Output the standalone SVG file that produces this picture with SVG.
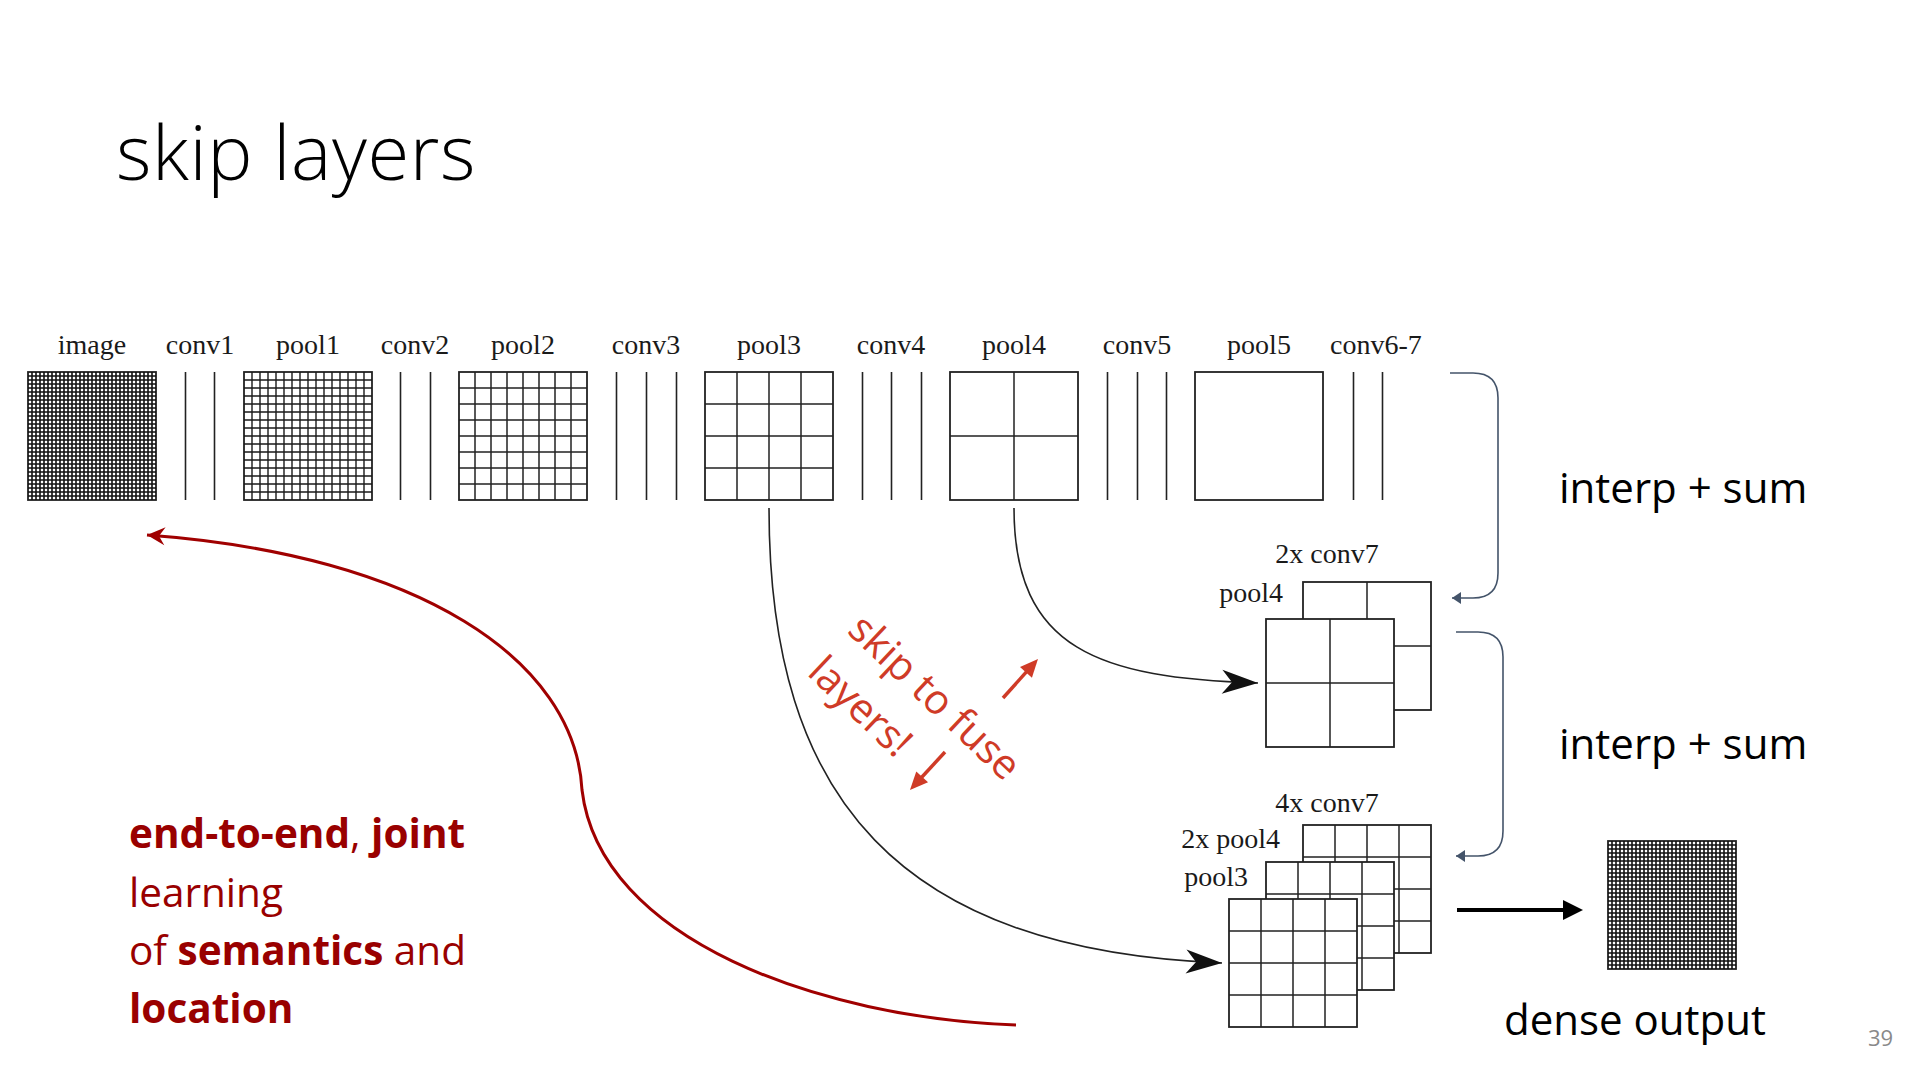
<svg xmlns="http://www.w3.org/2000/svg" xmlns:xlink="http://www.w3.org/1999/xlink" width="1920" height="1080" viewBox="0 0 1920 1080">
<style>
.lbl{font-family:"Liberation Serif","DejaVu Serif",serif;font-size:28px;fill:#1a1a1a;text-anchor:middle}
.lblr{font-family:"Liberation Serif","DejaVu Serif",serif;font-size:28px;fill:#1a1a1a;text-anchor:end}
.sans{font-family:"Open Sans","Noto Sans","Liberation Sans",sans-serif}
.title{font-size:76px;font-weight:300;fill:#000;letter-spacing:0.6px}
.big{font-size:42px;fill:#000}
.red{font-size:40.5px;fill:#990000}
.b{font-weight:700}
.skip{font-size:41px;fill:#CF3B27}
.pg{font-size:22px;fill:#898989}
.box{fill:#fff;stroke:#222;stroke-width:1.8}
.grid{fill:none;stroke:#222;stroke-width:1.5}
.fine{fill:none;stroke:#1a1a1a;stroke-width:1.4}
.vfine{fill:none;stroke:#111;stroke-width:1.6}
.conv{stroke:#222;stroke-width:1.6}
.curve{fill:none;stroke:#222;stroke-width:1.6}
.brace{fill:none;stroke:#44546A;stroke-width:1.6}
.rcurve{fill:none;stroke:#A00000;stroke-width:3}
.rarrow{fill:none;stroke:#CF3B27;stroke-width:3.5}
.thick{fill:none;stroke:#000;stroke-width:4}
</style>
<defs>
<marker id="stealth" markerUnits="userSpaceOnUse" viewBox="-38 -14 40 28" markerWidth="40" markerHeight="28" refX="0" refY="0" orient="auto"><path d="M0 0L-36-12L-26 0L-36 12Z" fill="#111"/></marker>
<marker id="rstealth" markerUnits="userSpaceOnUse" viewBox="-20 -10 22 20" markerWidth="22" markerHeight="20" refX="0" refY="0" orient="auto-start-reverse"><path d="M0 0L-18-9L-12 0L-18 9Z" fill="#A00000"/></marker>
<marker id="bhead" markerUnits="userSpaceOnUse" viewBox="-10 -7 12 14" markerWidth="12" markerHeight="14" refX="0" refY="0" orient="auto"><path d="M0 0L-9-6L-9 6Z" fill="#44546A"/></marker>
<marker id="tri" markerUnits="userSpaceOnUse" viewBox="-10 -11 25 22" markerWidth="25" markerHeight="22" refX="0" refY="0" orient="auto"><path d="M13 0L-7-10L-7 10Z" fill="#000"/></marker>
<marker id="rtri" markerUnits="userSpaceOnUse" viewBox="-4 -9 22 18" markerWidth="22" markerHeight="18" refX="0" refY="0" orient="auto"><path d="M16 0L-2-8L-2 8Z" fill="#CF3B27"/></marker>
<g id="g1"><rect class="box" x="0" y="0" width="128" height="128"/></g>
<g id="g2"><rect class="box" x="0" y="0" width="128" height="128"/><path class="grid" d="M64 0v128M0 64h128"/></g>
<g id="g4"><rect class="box" x="0" y="0" width="128" height="128"/><path class="grid" d="M32 0v128m32-128v128m32-128v128M0 32h128m-128 32h128m-128 32h128"/></g>
<g id="g8"><rect class="box" x="0" y="0" width="128" height="128"/><path class="grid" d="M16 0v128m16-128v128m16-128v128m16-128v128m16-128v128m16-128v128m16-128v128M0 16h128m-128 16h128m-128 16h128m-128 16h128m-128 16h128m-128 16h128m-128 16h128"/></g>
<g id="g16"><rect class="box" x="0" y="0" width="128" height="128"/><path class="fine" d="M8 0v128m8-128v128m8-128v128m8-128v128m8-128v128m8-128v128m8-128v128m8-128v128m8-128v128m8-128v128m8-128v128m8-128v128m8-128v128m8-128v128m8-128v128M0 8h128m-128 8h128m-128 8h128m-128 8h128m-128 8h128m-128 8h128m-128 8h128m-128 8h128m-128 8h128m-128 8h128m-128 8h128m-128 8h128m-128 8h128m-128 8h128m-128 8h128"/></g>
<g id="g32"><rect class="box" x="0" y="0" width="128" height="128"/><path class="vfine" d="M4 0v128m4-128v128m4-128v128m4-128v128m4-128v128m4-128v128m4-128v128m4-128v128m4-128v128m4-128v128m4-128v128m4-128v128m4-128v128m4-128v128m4-128v128m4-128v128m4-128v128m4-128v128m4-128v128m4-128v128m4-128v128m4-128v128m4-128v128m4-128v128m4-128v128m4-128v128m4-128v128m4-128v128m4-128v128m4-128v128m4-128v128M0 4h128m-128 4h128m-128 4h128m-128 4h128m-128 4h128m-128 4h128m-128 4h128m-128 4h128m-128 4h128m-128 4h128m-128 4h128m-128 4h128m-128 4h128m-128 4h128m-128 4h128m-128 4h128m-128 4h128m-128 4h128m-128 4h128m-128 4h128m-128 4h128m-128 4h128m-128 4h128m-128 4h128m-128 4h128m-128 4h128m-128 4h128m-128 4h128m-128 4h128m-128 4h128m-128 4h128"/></g>
</defs>
<rect x="0" y="0" width="1920" height="1080" fill="#fff"/>
<text class="sans title" x="116" y="180">skip layers</text>

<g id="n-image"><text class="lbl" x="92" y="354">image</text><use xlink:href="#g32" x="28" y="372"/></g>
<g id="n-conv1"><text class="lbl" x="200" y="354">conv1</text><path class="conv" d="M185.5 372V500M214.5 372V500"/></g>
<g id="n-pool1"><text class="lbl" x="308" y="354">pool1</text><use xlink:href="#g16" x="244" y="372"/></g>
<g id="n-conv2"><text class="lbl" x="415" y="354">conv2</text><path class="conv" d="M400.5 372V500M430.5 372V500"/></g>
<g id="n-pool2"><text class="lbl" x="523" y="354">pool2</text><use xlink:href="#g8" x="459" y="372"/></g>
<g id="n-conv3"><text class="lbl" x="646" y="354">conv3</text><path class="conv" d="M616.5 372V500M646.5 372V500M676.5 372V500"/></g>
<g id="n-pool3"><text class="lbl" x="769" y="354">pool3</text><use xlink:href="#g4" x="705" y="372"/></g>
<g id="n-conv4"><text class="lbl" x="891" y="354">conv4</text><path class="conv" d="M862.5 372V500M891.5 372V500M921.5 372V500"/></g>
<g id="n-pool4"><text class="lbl" x="1014" y="354">pool4</text><use xlink:href="#g2" x="950" y="372"/></g>
<g id="n-conv5"><text class="lbl" x="1137" y="354">conv5</text><path class="conv" d="M1107.5 372V500M1137.5 372V500M1166.5 372V500"/></g>
<g id="n-pool5"><text class="lbl" x="1259" y="354">pool5</text><use xlink:href="#g1" x="1195" y="372"/></g>
<g id="n-conv67"><text class="lbl" x="1376" y="354">conv6-7</text><path class="conv" d="M1353.5 372V500M1382.5 372V500"/></g>

<g id="n-fuse2">
<text class="lbl" x="1327" y="563">2x conv7</text>
<text class="lblr" x="1283" y="602">pool4</text>
<use xlink:href="#g2" x="1303" y="582"/>
<use xlink:href="#g2" x="1266" y="619"/>
</g>
<g id="n-fuse4">
<text class="lbl" x="1327" y="812">4x conv7</text>
<text class="lblr" x="1280" y="848">2x pool4</text>
<text class="lblr" x="1248" y="886">pool3</text>
<use xlink:href="#g4" x="1303" y="825"/>
<use xlink:href="#g4" x="1266" y="862"/>
<use xlink:href="#g4" x="1229" y="899"/>
</g>
<g id="n-dense"><use xlink:href="#g32" x="1608" y="841"/></g>

<g id="connectors">
<path class="curve" d="M769 508C769 800 900 950 1222 963" marker-end="url(#stealth)"/>
<path class="curve" d="M1014 508C1014 650 1100 678 1258 683" marker-end="url(#stealth)"/>
<path class="brace" d="M1450 373H1473Q1498 373 1498 398V573Q1498 598 1473 598H1452" marker-end="url(#bhead)"/>
<path class="brace" d="M1456 632H1478Q1503 632 1503 657V831Q1503 856 1478 856H1456" marker-end="url(#bhead)"/>
<path class="thick" d="M1457 910H1570" marker-end="url(#tri)"/>
<path class="rcurve" d="M147 535C420 555 575 660 582 790C600 940 820 1018 1016 1025" marker-start="url(#rstealth)"/>
<path class="rarrow" d="M1003 698L1027.3 670.9" marker-end="url(#rtri)"/>
<path class="rarrow" d="M945 752L920.8 778.3" marker-end="url(#rtri)"/>
</g>

<g id="skip-label" transform="translate(846 632) rotate(43.5)">
<text class="sans skip" x="0" y="0">skip to fuse</text>
<text class="sans skip" x="0" y="58">layers!</text>
</g>

<text class="sans big" x="1559" y="503">interp + sum</text>
<text class="sans big" x="1559" y="759">interp + sum</text>
<text class="sans big" x="1504" y="1035">dense output</text>

<g id="note" class="sans red">
<text x="129" y="848"><tspan class="b">end-to-end</tspan>, <tspan class="b">joint</tspan></text>
<text x="129" y="907">learning</text>
<text x="129" y="965">of <tspan class="b">semantics</tspan> and</text>
<text x="129" y="1023"><tspan class="b">location</tspan></text>
</g>

<text class="sans pg" x="1868" y="1046">39</text>
</svg>
